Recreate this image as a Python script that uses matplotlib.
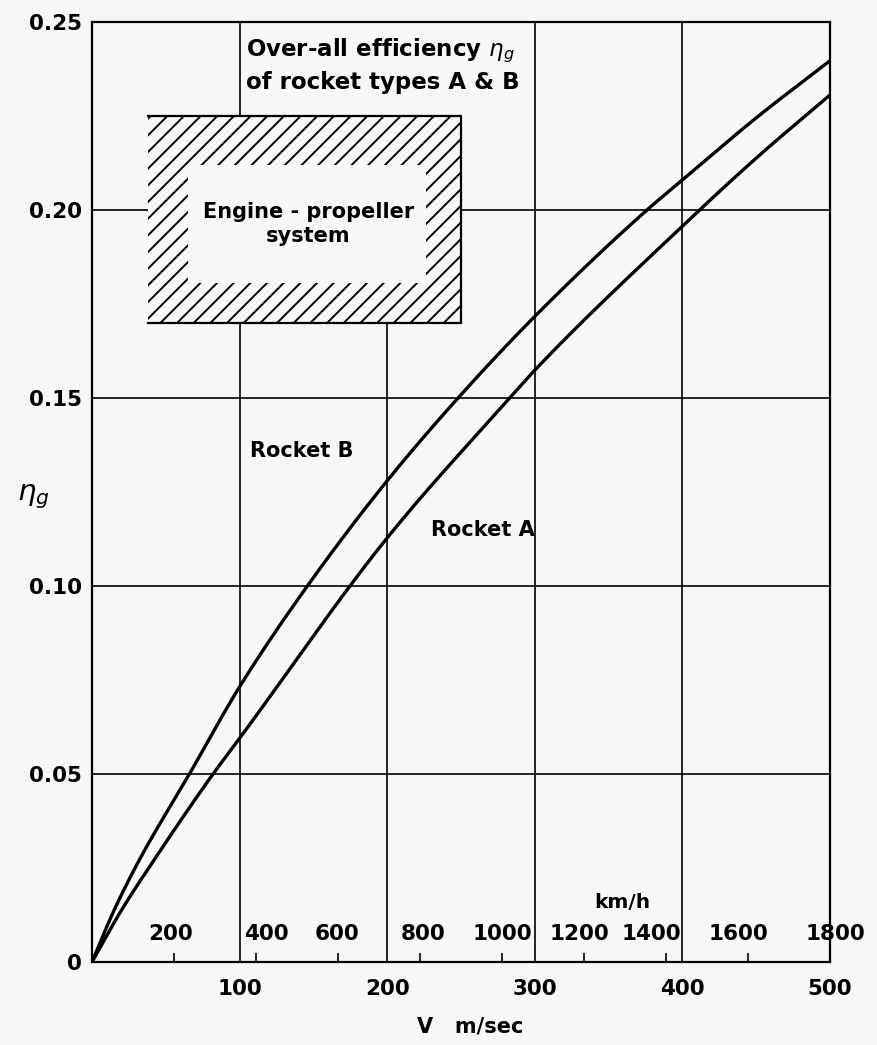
import numpy as np
import matplotlib
matplotlib.use("Agg")
import matplotlib.pyplot as plt
from matplotlib.patches import Rectangle

# ---------------- data ----------------
v_rocket_b = [0, 15, 32, 66, 100, 145, 200, 248, 300, 376, 400, 450, 500]
eta_rocket_b = [0, 0.0138, 0.0271, 0.050, 0.0732, 0.0995, 0.128, 0.150, 0.1717, 0.200, 0.208, 0.2245, 0.2397]

v_rocket_a = [0, 20, 42, 82, 100, 200, 283, 300, 400, 450, 500]
eta_rocket_a = [0, 0.0138, 0.0271, 0.050, 0.0595, 0.1128, 0.150, 0.1574, 0.1957, 0.2138, 0.2306]

x_ticks = [100, 200, 300, 400, 500]
x_tick_labels = ["100", "200", "300", "400", "500"]
y_ticks = [0, 0.05, 0.10, 0.15, 0.20, 0.25]
y_tick_labels = ["0", "0.05", "0.10", "0.15", "0.20", "0.25"]
kmh_ticks = [200, 400, 600, 800, 1000, 1200, 1400, 1600, 1800]
kmh_labels = ["200", "400", "600", "800", "1000", "1200", "1400", "1600", "1800"]
kmh_label_shift_px = [-3, 10, -1, 3, 0, -5, -15, -10, 5]


def pchip_path(x, y, n=400):
    """Monotone cubic (Fritsch-Carlson) path through the read points, for a smooth stroke."""
    x = np.asarray(x, float)
    y = np.asarray(y, float)
    h = np.diff(x)
    d = np.diff(y) / h
    m = np.zeros_like(y)
    for k in range(1, len(x) - 1):
        if d[k - 1] * d[k] > 0:
            w1 = 2 * h[k] + h[k - 1]
            w2 = h[k] + 2 * h[k - 1]
            m[k] = (w1 + w2) / (w1 / d[k - 1] + w2 / d[k])
    m[0] = d[0]
    m[-1] = d[-1]
    xs = np.linspace(x[0], x[-1], n)
    idx = np.clip(np.searchsorted(x, xs) - 1, 0, len(x) - 2)
    t = (xs - x[idx]) / h[idx]
    h00 = 2 * t**3 - 3 * t**2 + 1
    h10 = t**3 - 2 * t**2 + t
    h01 = -2 * t**3 + 3 * t**2
    h11 = t**3 - t**2
    ys = h00 * y[idx] + h10 * h[idx] * m[idx] + h01 * y[idx + 1] + h11 * h[idx] * m[idx + 1]
    return xs, ys


# ---------------- style ----------------
BG = "#f7f7f7"
plt.rcParams["font.family"] = ["DejaVu Sans"]
plt.rcParams["hatch.linewidth"] = 1.4
plt.rcParams["mathtext.fontset"] = "dejavusans"

W, H = 877, 1045
fig = plt.figure(figsize=(W / 100, H / 100), dpi=100, facecolor=BG)
left_px, right_px, top_px, bottom_px = 92, 830, 22, 962
ax = fig.add_axes([left_px / W, 1 - bottom_px / H,
                   (right_px - left_px) / W, (bottom_px - top_px) / H])
ax.set_facecolor(BG)
ax.set_xlim(0, 500)
ax.set_ylim(0, 0.25)

for s in ax.spines.values():
    s.set_linewidth(1.6)
    s.set_color("black")

# hatched "engine-propeller" box geometry (data coords)
box_x0, box_x1, box_y0, box_y1 = 38, 250, 0.170, 0.225
inner_x0, inner_x1, inner_y0, inner_y1 = 65, 226, 0.1806, 0.212

# grid lines (interrupted by the box and the title area)
glw = 1.2
ax.vlines(100, 0, box_y0, color="black", lw=glw)
ax.vlines(100, box_y1, 0.25, color="black", lw=glw)
ax.vlines(200, 0, box_y0, color="black", lw=glw)
ax.vlines([300, 400], 0, 0.25, color="black", lw=glw)
ax.hlines([0.05, 0.10, 0.15], 0, 500, color="black", lw=glw)
ax.hlines(0.20, 0, box_x0, color="black", lw=glw)
ax.hlines(0.20, box_x1, 500, color="black", lw=glw)

# hatched box
ax.add_patch(Rectangle((box_x0, box_y0), box_x1 - box_x0, box_y1 - box_y0,
                       facecolor=BG, edgecolor="black", lw=0, hatch="//", zorder=2))
ax.add_patch(Rectangle((inner_x0, inner_y0), inner_x1 - inner_x0, inner_y1 - inner_y0,
                       facecolor=BG, edgecolor="none", lw=0, zorder=3))
ax.plot([box_x0, box_x1, box_x1, box_x0], [box_y1, box_y1, box_y0, box_y0],
        color="black", lw=1.6, zorder=4, solid_joinstyle="miter")
ax.text((inner_x0 + inner_x1) / 2 + 1, (inner_y0 + inner_y1) / 2, "Engine - propeller\nsystem",
        ha="center", va="center", fontsize=15, fontweight="bold", linespacing=1.2, zorder=5)

# curves
for vv, ee in ((v_rocket_b, eta_rocket_b), (v_rocket_a, eta_rocket_a)):
    xs, ys = pchip_path(vv, ee)
    ax.plot(xs, ys, color="black", lw=2.4, zorder=6,
            solid_capstyle="round", solid_joinstyle="round")

ax.text(107, 0.136, "Rocket B", ha="left", va="center", fontsize=15, fontweight="bold")
ax.text(230, 0.115, "Rocket A", ha="left", va="center", fontsize=15, fontweight="bold")

# title text
ax.text(104, 0.2460, "Over-all efficiency $\\mathit{\\eta_g}$\nof rocket types A & B",
        ha="left", va="top", fontsize=16.5, fontweight="bold", linespacing=1.3)

# main ticks
ax.set_xticks(x_ticks)
ax.set_xticklabels(x_tick_labels, fontweight="bold")
ax.set_yticks(y_ticks)
ax.set_yticklabels(y_tick_labels, fontweight="bold")
ax.tick_params(axis="both", length=0, labelsize=15.5)
ax.tick_params(axis="x", pad=12)
ax.tick_params(axis="y", pad=7)

# km/h scale inside the axes
kmh_pos = np.array(kmh_ticks) / 3.6
ax.vlines(kmh_pos, 0, 0.0025, color="black", lw=1.2)
for p, lab, dx in zip(kmh_pos, kmh_labels, kmh_label_shift_px):
    ax.annotate(lab, (p, 0), xytext=(dx, 28), textcoords="offset pixels",
                ha="center", va="center", fontsize=15.5, fontweight="bold")
ax.text(359, 0.0157, "km/h", ha="center", va="center", fontsize=14.5, fontweight="bold")

# axis labels
fig.text(470 / W, 1 - 1027 / H, "V   m/sec", ha="center", va="center",
         fontsize=15, fontweight="bold")
fig.text(33 / W, 1 - 497 / H, "$\\mathit{\\eta_g}$", ha="center", va="center", fontsize=21)

fig.savefig("out.png", dpi=100, facecolor=BG)
